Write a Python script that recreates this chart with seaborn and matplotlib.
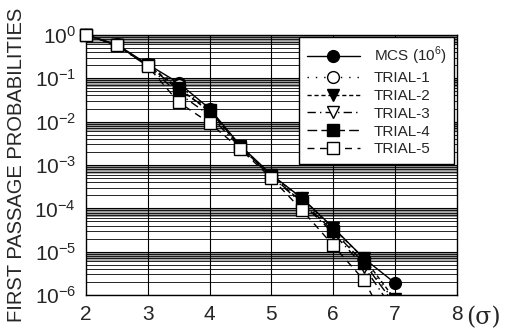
import numpy as np
import matplotlib
matplotlib.use("Agg")
import matplotlib.pyplot as plt
from matplotlib.patches import Rectangle
import seaborn as sns

sns.set_style("white")
plt.rcParams["font.family"] = ["Liberation Sans", "DejaVu Sans"]
plt.rcParams["mathtext.fontset"] = "custom"
plt.rcParams["mathtext.rm"] = "Liberation Sans"

# threshold level in units of sigma
sigma = [2.0, 2.5, 3.0, 3.5, 4.0, 4.5, 5.0, 5.5, 6.0, 6.5, 7.0]

mcs    = [1.0, 0.60, 0.21, 0.078, 0.020, 0.0028, 6.0e-4, 1.7e-4, 3.6e-5, 7.0e-6, 1.9e-6]
trial1 = [1.0, 0.58, 0.20, 0.070, 0.018, 0.0026, 5.6e-4, 1.5e-4, 3.2e-5, 6.0e-6, 7.0e-7]
trial2 = [1.0, 0.58, 0.20, 0.060, 0.017, 0.0027, 5.8e-4, 1.7e-4, 3.5e-5, 7.0e-6, 8.0e-7]
trial3 = [1.0, 0.57, 0.19, 0.045, 0.014, 0.0025, 5.4e-4, 1.3e-4, 2.7e-5, 4.5e-6, 4.0e-7]
trial4 = [1.0, 0.58, 0.20, 0.054, 0.019, 0.0026, 5.5e-4, 1.4e-4, 3.0e-5, 5.5e-6, 6.0e-7]
trial5 = [1.0, 0.59, 0.19, 0.028, 0.0093, 0.0023, 5.0e-4, 9.0e-5, 1.4e-5, 2.2e-6, 1.0e-7]

labels = ["MCS (10$^{6}$)", "TRIAL-1", "TRIAL-2", "TRIAL-3", "TRIAL-4", "TRIAL-5"]
series = [mcs, trial1, trial2, trial3, trial4, trial5]
styles = [
    dict(linestyle="-", marker="o", markerfacecolor="black"),
    dict(linestyle=(0, (1, 5)), marker="o", markerfacecolor="white"),
    dict(linestyle=(0, (3, 2)), marker="v", markerfacecolor="black"),
    dict(linestyle=(0, (6, 3, 1, 3)), marker="v", markerfacecolor="white"),
    dict(linestyle=(0, (7, 3)), marker="s", markerfacecolor="black"),
    dict(linestyle=(0, (5, 4)), marker="s", markerfacecolor="white"),
]

fig = plt.figure(figsize=(5.11, 3.35), dpi=100)
ax = fig.add_axes([0.168, 0.119, 0.726, 0.777])

ax.set_yscale("log")
ax.set_xlim(2, 8)
ax.set_ylim(1e-6, 1)

# dense horizontal rules: decades, minor 2..9 and fine shading below each decade
for d in range(-6, 0):
    for s in range(2, 10):
        ax.axhline(s * 10.0 ** d, color="black", lw=0.6, zorder=0.5)
    for s in np.arange(6.5, 10.0, 0.25):
        ax.axhline(s * 10.0 ** d, color="0.55", lw=0.5, zorder=0.4)
for d in range(-6, 1):
    ax.axhline(10.0 ** d, color="black", lw=0.8, zorder=0.5)
for xv in range(3, 8):
    ax.axvline(xv, color="black", lw=0.8, zorder=0.5)

# curves are cut at the lower axis but markers may overhang the other edges
clip = Rectangle((-0.1, 0.0), 1.2, 1.2, transform=ax.transAxes)
for lab, vals, st in zip(labels, series, styles):
    sns.lineplot(x=sigma, y=vals, ax=ax, color="black", lw=1.0,
                 markersize=8.5, markeredgecolor="black", markeredgewidth=1.0,
                 label=lab, zorder=3, **st)
for ln in ax.get_lines()[-len(series):]:
    ln.set_clip_path(clip)

ax.set_xticks([2, 3, 4, 5, 6, 7, 8])
ax.set_xticklabels(["2", "3", "4", "5", "6", "7", "8"])
ax.set_yticks([10.0 ** d for d in range(-6, 1)])
ax.tick_params(axis="both", length=0, labelsize=15, pad=7)
ax.yaxis.set_minor_locator(matplotlib.ticker.NullLocator())
for sp in ax.spines.values():
    sp.set_color("black")
    sp.set_linewidth(1.0)

ax.set_ylabel("FIRST PASSAGE PROBABILITIES", fontsize=14.5, labelpad=6)
ax.set_xlabel("")
ax.text(1.025, -0.085, "(σ)", transform=ax.transAxes, fontsize=17,
        family=["DejaVu Serif"], va="center", ha="left")

leg = ax.legend(loc="upper right", bbox_to_anchor=(0.993, 0.99), frameon=True,
                fancybox=False, edgecolor="black", fontsize=11, handlelength=3.5,
                labelspacing=0.25, borderpad=0.5, handletextpad=0.9,
                borderaxespad=0.0, framealpha=1)
leg.get_frame().set_linewidth(1.0)
leg.set_zorder(5)

fig.savefig("out.png", dpi=100)
